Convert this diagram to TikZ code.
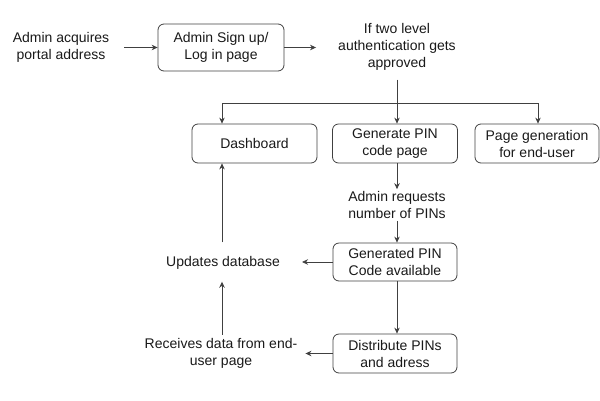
\documentclass[tikz,border=0pt]{standalone}
\usepackage{fontspec}
\setmainfont{Liberation Sans}
\usetikzlibrary{arrows.meta}
\begin{document}
\begin{tikzpicture}[x=1pt,y=-1pt,
  every node/.style={font=\fontsize{14}{17}\selectfont, align=center, text=black!90},
  box/.style={draw=black!75, line width=0.8pt, rounded corners=6pt, minimum width=125pt, minimum height=39pt, inner sep=2pt},
  lbl/.style={inner sep=0pt},
  arr/.style={draw=black!75, line width=0.8pt, -{Stealth[length=6pt,width=5.5pt]}},
  ln/.style={draw=black!75, line width=0.8pt}]
\useasboundingbox (0,0) rectangle (600,400);
\node[lbl] (acq) at (61,47.5) {Admin acquires\\portal address};
\node[box, minimum width=126pt, minimum height=47pt] (login) at (221,47.5) {Admin Sign up/\\Log in page};
\node[lbl] (auth) at (397,47) {If two level\\authentication gets\\approved};
\node[box] (dash) at (254.5,143.5) {Dashboard};
\node[box] (gen) at (395,143.5) {Generate PIN\\code page};
\node[box, minimum width=124pt] (pg) at (537,143.5) {Page generation\\for end-user};
\node[lbl] (req) at (397,205) {Admin requests\\number of PINs};
\node[box, minimum width=124pt, minimum height=38pt] (genav) at (395,262) {Generated PIN\\Code available};
\node[lbl] (upd) at (223,263) {Updates database};
\node[box, minimum width=124pt] (dist) at (395,353.5) {Distribute PINs\\and adress};
\node[lbl] (recv) at (221,353) {Receives data from end-\\user page};
\coordinate (dl) at (222,103);
\coordinate (dr) at (538,103);
\draw[arr, shorten <=15pt] (acq.east |- login.west) -- (login.west);
\draw[arr, shorten >=22pt] (login.east) -- (login.east -| auth.west);
\draw[arr, shorten <=9pt] (auth.south) -- (auth.south |- gen.north);
\draw[ln] (dl) -- (dr);
\draw[arr] (dl) -- (dl |- dash.north);
\draw[arr] (dr) -- (dr |- pg.north);
\draw[arr, shorten >=2pt] (gen.south -| auth.south) -- (req.north -| auth.south);
\draw[arr, shorten <=2pt] (req.south -| auth.south) -- (genav.north -| auth.south);
\draw[arr] (genav.south -| auth.south) -- (dist.north -| auth.south);
\draw[arr, shorten >=22pt] (genav.west) -- (genav.west -| upd.east);
\draw[arr, shorten >=8pt] (dist.west) -- (dist.west -| recv.east);
\draw[arr, shorten <=14pt] (upd.north -| dl) -- (dash.south -| dl);
\draw[arr, shorten <=3pt, shorten >=12pt] (recv.north -| dl) -- (upd.south -| dl);
\end{tikzpicture}
\end{document}
